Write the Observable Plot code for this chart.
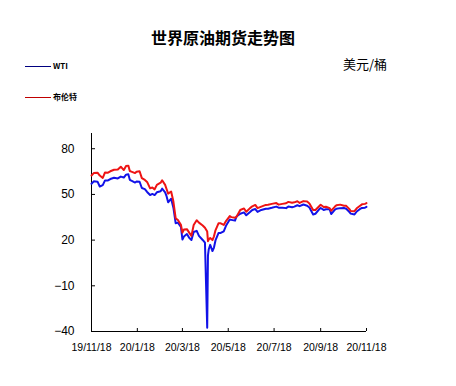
<!DOCTYPE html>
<html>
<head>
<meta charset="utf-8">
<script src="https://cdn.jsdelivr.net/npm/d3@7"></script>
<script src="https://cdn.jsdelivr.net/npm/@observablehq/plot@0.6"></script>
<style>
  html, body { margin: 0; padding: 0; background: #fff; }
  #wrap { position: relative; width: 456px; height: 386px; overflow: hidden; font-family: "Liberation Sans", Arial, sans-serif; }
  #wrap svg { position: absolute; left: 0; top: 0; }
  .abs { position: absolute; white-space: nowrap; line-height: 1; }
  #title { left: 0; width: 446px; top: 29px; text-align: center; font-family: "Noto Sans CJK SC", sans-serif; font-weight: bold; font-size: 16px; color: #000; }
  #unit { left: 343px; top: 57px; font-family: "Noto Sans CJK SC", sans-serif; font-size: 13px; color: #000; }
  .lg-line { position: absolute; left: 25px; width: 26px; height: 1px; }
  .lg-text { position: absolute; left: 53px; font-weight: bold; font-size: 8px; font-family: "Noto Sans CJK SC", "Liberation Sans", sans-serif; color: #000; }
</style>
</head>
<body>
<div id="wrap">
  <div id="title" class="abs">世界原油期货走势图</div>
  <div id="unit" class="abs">美元/桶</div>
  <div class="lg-line" style="top:66px;background:#000080"></div>
  <div class="lg-text abs" style="top:62px">WTI</div>
  <div class="lg-line" style="top:97px;background:#c00000"></div>
  <div class="lg-text abs" style="top:93px">布伦特</div>
</div>
<script>
const seriesNames = ["WTI", "布伦特"];
const seriesColors = ["#1212e8", "#ee1414"];
const xTickLabels = ["19/11/18", "20/1/18", "20/3/18", "20/5/18", "20/7/18", "20/9/18", "20/11/18"];
const yTicks = [80, 50, 20, -10, -40];

const dates = [
"2019-11-18","2019-11-21","2019-11-26","2019-11-29","2019-12-03","2019-12-06","2019-12-10","2019-12-13","2019-12-18","2019-12-23","2019-12-27","2019-12-31",
"2020-01-03","2020-01-06","2020-01-08","2020-01-10","2020-01-15","2020-01-17","2020-01-21","2020-01-24","2020-01-28","2020-01-31",
"2020-02-04","2020-02-07","2020-02-10","2020-02-13","2020-02-18","2020-02-20","2020-02-24","2020-02-26","2020-02-28",
"2020-03-03","2020-03-06","2020-03-09","2020-03-12","2020-03-16","2020-03-18","2020-03-20","2020-03-24","2020-03-27","2020-03-30",
"2020-04-02","2020-04-06","2020-04-09","2020-04-14","2020-04-17","2020-04-20","2020-04-21","2020-04-22","2020-04-24","2020-04-27","2020-04-29",
"2020-05-01","2020-05-05","2020-05-08","2020-05-12","2020-05-15","2020-05-20","2020-05-22","2020-05-27","2020-05-29",
"2020-06-03","2020-06-08","2020-06-11","2020-06-16","2020-06-19","2020-06-23","2020-06-26",
"2020-07-01","2020-07-07","2020-07-10","2020-07-15","2020-07-21","2020-07-24","2020-07-29",
"2020-08-03","2020-08-06","2020-08-11","2020-08-14","2020-08-18","2020-08-21","2020-08-26","2020-08-31",
"2020-09-03","2020-09-08","2020-09-11","2020-09-16","2020-09-18","2020-09-22","2020-09-25","2020-09-30",
"2020-10-02","2020-10-07","2020-10-09","2020-10-14","2020-10-19","2020-10-22","2020-10-26","2020-10-28",
"2020-11-02","2020-11-05","2020-11-09","2020-11-12","2020-11-16","2020-11-18"
];
const wti = [
57.0,58.6,58.4,55.2,56.1,59.2,59.2,60.1,60.9,60.5,61.7,61.1,
63.0,63.3,59.6,59.0,57.8,58.5,58.3,54.2,53.5,51.6,
49.6,50.3,49.6,51.4,52.1,53.8,51.4,48.7,44.8,
47.2,41.3,31.1,31.5,28.7,20.4,22.4,24.0,21.5,20.1,
25.3,26.1,22.8,20.1,18.3,-37.6,10.0,13.8,16.9,12.8,15.1,
19.8,24.6,24.7,25.8,29.4,33.5,33.3,32.8,35.5,
37.3,38.2,36.3,38.4,39.8,40.4,38.5,
39.8,40.6,40.6,41.2,42.0,41.3,41.3,
41.0,42.0,41.6,42.0,42.9,42.3,43.4,42.6,
41.4,36.8,37.3,40.2,41.1,39.8,40.3,40.2,
37.1,40.0,40.6,41.0,41.1,40.6,38.6,37.4,
36.8,38.8,40.3,41.1,41.3,41.8
];
const brent = [
62.4,64.0,64.3,62.4,60.8,64.4,64.3,65.2,66.2,66.4,68.2,66.0,
68.6,68.9,65.4,65.0,64.0,64.9,65.2,60.7,59.5,58.2,
54.0,54.5,53.3,56.3,57.7,59.3,56.3,53.4,50.5,
51.9,45.3,34.4,33.2,30.1,24.9,27.0,27.2,24.9,22.8,
29.9,33.0,31.5,29.6,28.1,25.6,19.3,20.4,21.4,20.0,22.5,
26.4,31.0,31.0,30.0,32.5,35.8,35.1,34.7,35.3,
39.8,40.8,38.6,41.0,42.2,43.1,41.0,
42.0,43.1,43.2,43.8,44.3,43.3,43.8,
44.2,45.1,44.5,44.8,45.5,44.4,45.6,45.3,
44.1,39.8,39.8,42.2,43.2,41.7,41.9,41.0,
39.3,42.0,42.9,43.3,42.6,42.5,40.5,39.1,
39.0,40.9,42.4,43.5,43.8,44.3
];

const parseDay = d3.utcParse("%Y-%m-%d");
const parseTick = d3.utcParse("%y/%m/%d");
const xTicks = xTickLabels.map(parseTick);

const rows = [];
dates.forEach((d, i) => {
  rows.push({date: parseDay(d), value: wti[i], series: seriesNames[0]});
});
dates.forEach((d, i) => {
  rows.push({date: parseDay(d), value: brent[i], series: seriesNames[1]});
});

const chart = Plot.plot({
  width: 456,
  height: 386,
  marginLeft: 91,
  marginRight: 90,
  marginTop: 133,
  marginBottom: 55,
  style: {fontFamily: "'Liberation Sans', Arial, sans-serif", background: "transparent", color: "#000"},
  x: {type: "utc", domain: [xTicks[0], xTicks[xTicks.length - 1]]},
  y: {domain: [-40, 90]},
  color: {domain: seriesNames, range: seriesColors},
  marks: [
    Plot.ruleX([xTicks[0]], {stroke: "#000", strokeWidth: 1}),
    Plot.ruleY([-40], {stroke: "#000", strokeWidth: 1}),
    Plot.axisY({ticks: yTicks, tickSize: -4, tickPadding: 21, fontSize: 12, label: null, stroke: "#000"}),
    Plot.axisX({ticks: xTicks, tickSize: -3, tickPadding: 15, fontSize: 10.5, label: null,
      tickFormat: (d, i) => xTickLabels[i], stroke: "#000"}),
    Plot.line(rows, {x: "date", y: "value", z: "series", stroke: "series", strokeWidth: 2, curve: "linear"})
  ]
});
document.getElementById("wrap").prepend(chart);
</script>
</body>
</html>
